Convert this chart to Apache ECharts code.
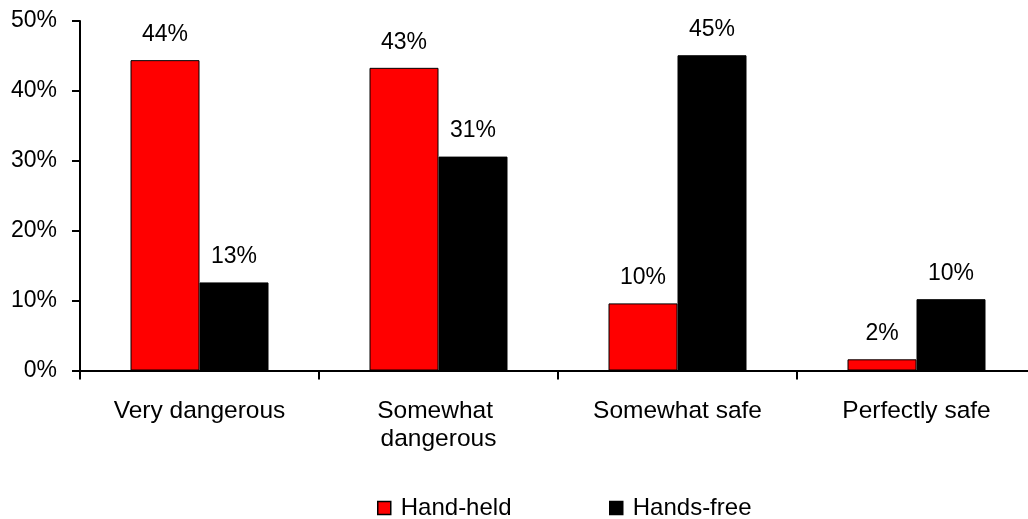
<!DOCTYPE html>
<html>
<head>
<meta charset="utf-8">
<script src="https://cdn.jsdelivr.net/npm/echarts@6/dist/echarts.min.js"></script>
<style>
  html, body { margin: 0; padding: 0; background: #fff; overflow: hidden; }
  /* the category axis runs a little past the right edge of the window */
  #chart { width: 1036px; height: 519px; }
</style>
</head>
<body>
<div id="chart"></div>
<script>
// Perceived danger of phone use while driving, by phone type (% of respondents)
const categories = ['Very dangerous', 'Somewhat dangerous', 'Somewhat safe', 'Perfectly safe'];
const handHeld = [44.4, 43.3, 9.6, 1.6];
const handsFree = [12.6, 30.6, 45.1, 10.2];
const seriesNames = ['Hand-held', 'Hands-free'];
const yTicks = { min: 0, max: 50, interval: 10 };

const FONT = 'Liberation Sans, Arial, sans-serif';

const chart = echarts.init(document.getElementById('chart'), null, { renderer: 'canvas' });

function barSeries(name, data, color) {
  return {
    name: name,
    type: 'bar',
    data: data,
    barWidth: 69,
    barGap: '0%',
    itemStyle: { color: color, borderColor: '#000', borderWidth: 1 },
    label: {
      show: true,
      position: 'top',
      distance: 14,
      color: '#000',
      fontFamily: FONT,
      fontSize: 23,
      formatter: p => Math.round(p.value) + '%'
    },
    animation: false
  };
}

function legendAt(left, name) {
  return {
    left: left,
    top: 496,
    padding: 0,
    data: [name],
    icon: 'rect',
    itemWidth: 13,
    itemHeight: 13,
    itemStyle: { borderColor: '#000', borderWidth: 1.5 },
    textStyle: { color: '#000', fontFamily: FONT, fontSize: 24, padding: [0, 0, 0, 5] },
    selectedMode: false
  };
}

chart.setOption({
  backgroundColor: '#fff',
  animation: false,
  grid: { left: 80, right: 0, top: 21, bottom: 148.5 },
  legend: [legendAt(377, seriesNames[0]), legendAt(609, seriesNames[1])],
  xAxis: {
    type: 'category',
    data: categories,
    axisLine: { lineStyle: { color: '#000', width: 2 } },
    axisTick: { show: true, length: 9, lineStyle: { color: '#000', width: 2 } },
    axisLabel: {
      interval: 0,
      margin: 27,
      color: '#000',
      fontFamily: FONT,
      fontSize: 24.5,
      lineHeight: 28,
      width: 210,
      overflow: 'break'
    },
    splitLine: { show: false }
  },
  yAxis: {
    type: 'value',
    min: yTicks.min,
    max: yTicks.max,
    interval: yTicks.interval,
    axisLine: { show: true, lineStyle: { color: '#000', width: 2 } },
    axisTick: { show: true, length: 8, lineStyle: { color: '#000', width: 2 } },
    axisLabel: {
      margin: 23,
      color: '#000',
      fontFamily: FONT,
      fontSize: 23,
      formatter: '{value}%'
    },
    splitLine: { show: false }
  },
  series: [
    barSeries(seriesNames[0], handHeld, '#ff0000'),
    barSeries(seriesNames[1], handsFree, '#000000')
  ]
});
</script>
</body>
</html>
